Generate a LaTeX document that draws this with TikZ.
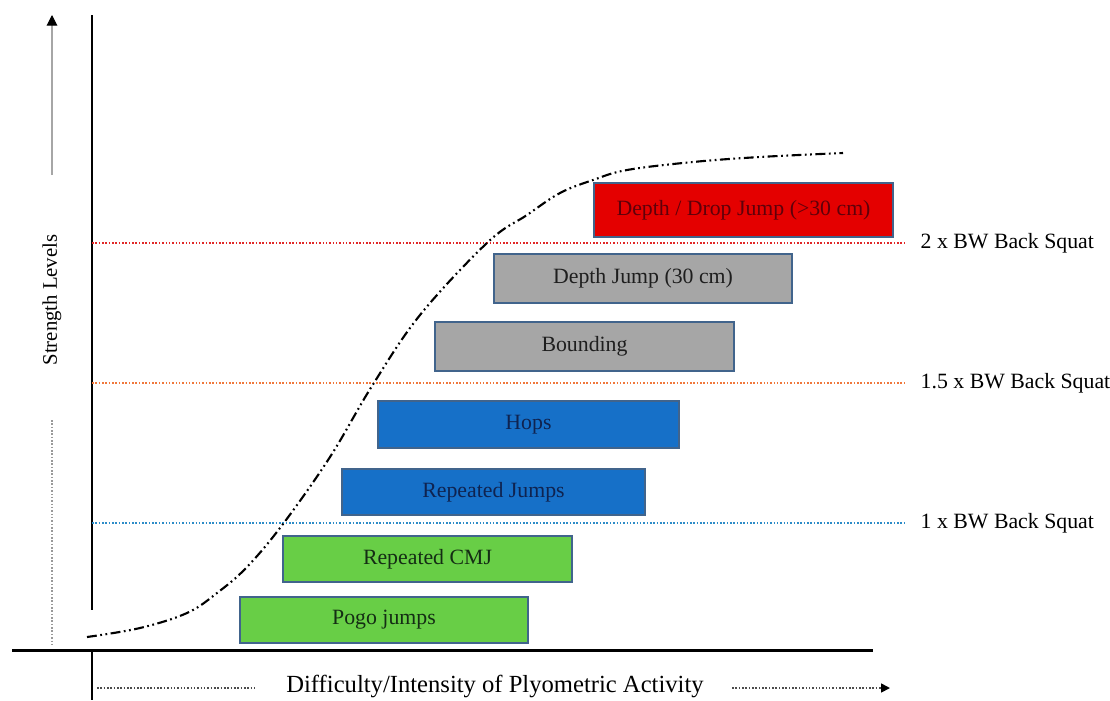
\documentclass[tikz,border=0pt]{standalone}
\usepackage{fontspec}
\setmainfont{Liberation Serif}
\usetikzlibrary{arrows.meta}
\definecolor{boxred}{RGB}{228,0,0}
\definecolor{boxgray}{RGB}{166,166,166}
\definecolor{boxblue}{RGB}{22,112,200}
\definecolor{boxgreen}{RGB}{104,206,70}
\definecolor{boxedge}{RGB}{65,100,140}
\definecolor{txtred}{RGB}{95,0,10}
\definecolor{txtgray}{RGB}{30,30,30}
\definecolor{txtblue}{RGB}{15,35,80}
\definecolor{txtgreen}{RGB}{20,45,20}
\definecolor{lvlred}{RGB}{225,40,40}
\definecolor{lvlorange}{RGB}{240,120,60}
\definecolor{lvlblue}{RGB}{45,140,200}
\begin{document}
\begin{tikzpicture}[x=0.01cm, y=-0.01cm,
    actbox/.style={draw=boxedge, line width=0.45pt, inner sep=0pt, font=\fontsize{6.2}{7}\selectfont},
    dotline/.style={line width=0.45pt, dash pattern=on 0.45pt off 0.5pt},
    lvllbl/.style={anchor=west, inner xsep=0.14cm, font=\fontsize{6.2}{7}\selectfont},
    axis/.style={line width=0.85pt}]
    \useasboundingbox (0,0) rectangle (1110,700);
    % axes
    \draw[axis] (92,15) -- (92,610);
    \draw[axis] (12,650) -- (873,650);
    \draw[axis] (92,650) -- (92,700);
    % strength levels
    \foreach \n/\y/\col/\k in {two/243/lvlred/2, onehalf/383/lvlorange/1.5, one/523/lvlblue/1}{
      \coordinate (ax\n) at (92,\y);
      \node[lvllbl] (lvl\n) at (906,\y) {\k\ x BW Back Squat};
      \draw[\col, dotline] (ax\n) -- (lvl\n.west);
    }
    % activities
    \foreach \n/\cx/\cy/\w/\h/\col/\tcol/\txt in {
      drop/743.5/210/2.99/0.54/boxred/txtred/{Depth / Drop Jump (>30 cm)},
      depth/643/278.5/2.98/0.49/boxgray/txtgray/{Depth Jump (30 cm)},
      bound/584.5/346.5/2.99/0.49/boxgray/txtgray/{Bounding},
      hops/528.5/424.5/3.01/0.47/boxblue/txtblue/{Hops},
      rjumps/493.5/492/3.03/0.46/boxblue/txtblue/{Repeated Jumps},
      rcmj/427.5/559/2.89/0.46/boxgreen/txtgreen/{Repeated CMJ},
      pogo/384/620/2.88/0.46/boxgreen/txtgreen/{Pogo jumps}}{
      \node[actbox, fill=\col, text=\tcol, minimum width=\w cm, minimum height=\h cm] (box\n) at (\cx,\cy) {\txt};
    }
    % curve
    \draw[line width=0.6pt, dash pattern=on 2.8pt off 1pt on 0.5pt off 1pt on 0.5pt off 1pt]
      plot[smooth, tension=0.6] coordinates {(87,637) (140,628) (187,613) (217,593) (247,567) (283,524)
      (330,457) (372,386) (420,315) (488,242) (527,215) (560,193) (593,180) (627,170) (693,162) (760,157) (843,153)};
    % axis labels
    \node[rotate=90, font=\fontsize{5.9}{7}\selectfont] (ylbl) at (52,300) {Strength Levels};
    \coordinate (ytop) at (52,15);
    \coordinate (ybot) at (52,645);
    \draw[gray!70, line width=0.3pt, -{Triangle[color=black, length=3pt, width=3pt]}] (52,175) -- (ytop);
    \draw[gray!80, dotline] (52,420) -- (ybot);
    \node[font=\fontsize{7}{8}\selectfont] (xlbl) at (495,686) {Difficulty/Intensity of Plyometric Activity};
    \coordinate (xleft) at (97,688);
    \coordinate (xright) at (890,688);
    \draw[black!70, dotline] (xleft) -- (255,688);
    \draw[black!70, dotline, -{Triangle[color=black, length=2.5pt, width=2.5pt]}] (732,688) -- (xright);
\end{tikzpicture}
\end{document}
